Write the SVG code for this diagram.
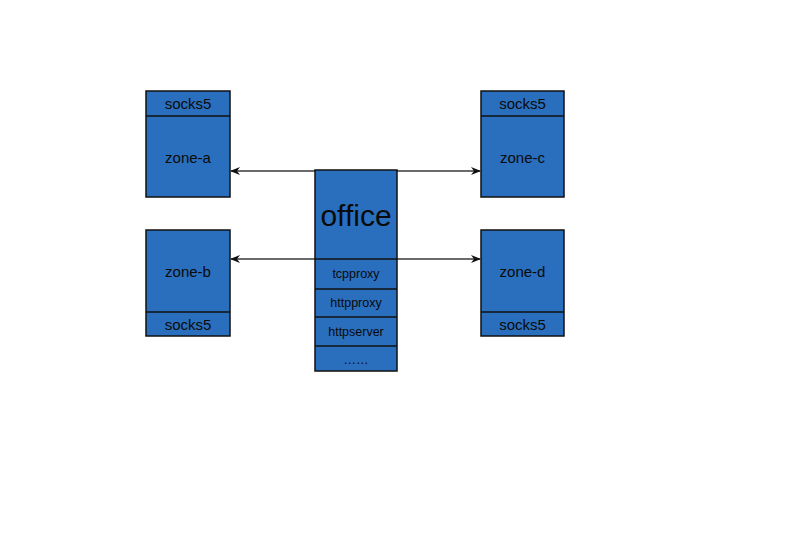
<svg xmlns="http://www.w3.org/2000/svg" width="806" height="536" viewBox="0 0 806 536">
<defs>
<style>
.box{fill:#2a6fbd;stroke:#111;stroke-width:1.5}
.div{stroke:#111;stroke-width:1.5}
.t{font-family:"Liberation Sans",Arial,sans-serif;fill:#0a0a0a;text-anchor:middle}
.m{font-size:15px}
.s{font-size:12.5px}
.c{stroke:#3a3a3a;stroke-width:1.3;fill:none}
</style>
<marker id="ah" viewBox="0 0 10 10" refX="9" refY="5" markerWidth="10" markerHeight="10" markerUnits="userSpaceOnUse" orient="auto-start-reverse">
<path d="M0,1 L10,5 L0,9 L3,5 Z" fill="#111"/>
</marker>
</defs>
<rect width="806" height="536" fill="#fff"/>
<g id="connectors">
<line class="c" x1="231" y1="171" x2="480" y2="171" marker-start="url(#ah)" marker-end="url(#ah)"/>
<line class="c" x1="231" y1="259" x2="480" y2="259" marker-start="url(#ah)" marker-end="url(#ah)"/>
</g>
<g id="zone-a">
<rect class="box" x="146" y="91" width="84" height="106"/>
<line class="div" x1="146" y1="116" x2="230" y2="116"/>
<text class="t m" x="188" y="109">socks5</text>
<text class="t m" x="188" y="163">zone-a</text>
</g>
<g id="zone-c">
<rect class="box" x="481" y="91" width="83" height="106"/>
<line class="div" x1="481" y1="116" x2="564" y2="116"/>
<text class="t m" x="522.5" y="109">socks5</text>
<text class="t m" x="522.5" y="163">zone-c</text>
</g>
<g id="zone-b">
<rect class="box" x="146" y="230" width="84" height="106"/>
<line class="div" x1="146" y1="312" x2="230" y2="312"/>
<text class="t m" x="188" y="277">zone-b</text>
<text class="t m" x="188" y="330">socks5</text>
</g>
<g id="zone-d">
<rect class="box" x="481" y="230" width="83" height="106"/>
<line class="div" x1="481" y1="312" x2="564" y2="312"/>
<text class="t m" x="522.5" y="277">zone-d</text>
<text class="t m" x="522.5" y="330">socks5</text>
</g>
<g id="office">
<rect class="box" x="315" y="170" width="82" height="201"/>
<line class="div" x1="315" y1="259" x2="397" y2="259"/>
<line class="div" x1="315" y1="289" x2="397" y2="289"/>
<line class="div" x1="315" y1="317" x2="397" y2="317"/>
<line class="div" x1="315" y1="346" x2="397" y2="346"/>
<text class="t" x="356" y="226" font-size="30">office</text>
<text class="t s" x="356" y="278">tcpproxy</text>
<text class="t s" x="356" y="307">httpproxy</text>
<text class="t s" x="356" y="336">httpserver</text>
<text class="t s" x="356" y="364">……</text>
</g>
</svg>
